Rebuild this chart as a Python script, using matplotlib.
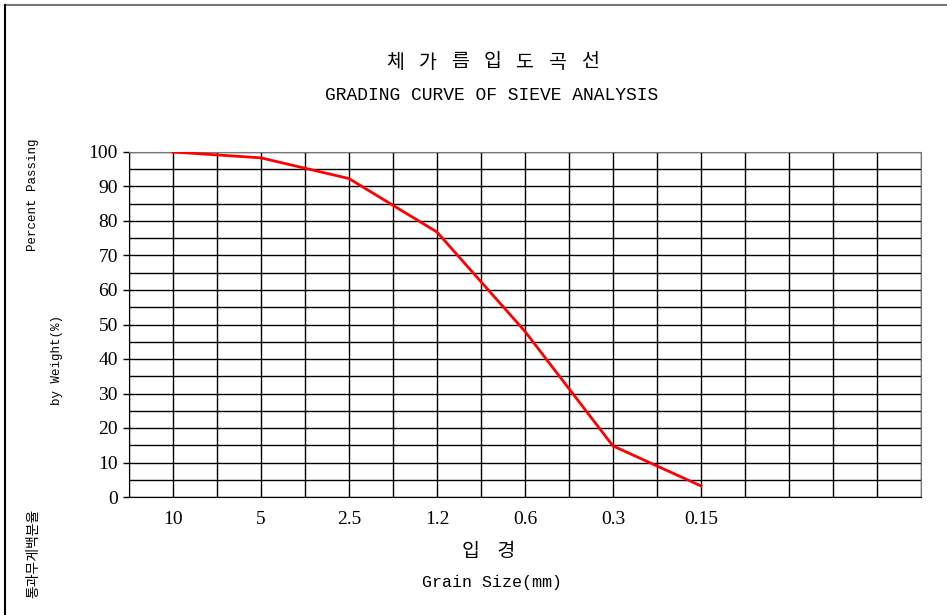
import matplotlib.pyplot as plt
from matplotlib.lines import Line2D

# sieve sizes and percent passing
sieves = ['10', '5', '2.5', '1.2', '0.6', '0.3', '0.15']
passing = [100, 98.3, 92.3, 76.8, 48.0, 14.8, 3.2]
ncols = 18  # number of grid columns on the chart
title_kr = ['체', '가', '름', '입', '도', '곡', '선']

kr = ['Noto Sans CJK KR', 'DejaVu Sans']

fig = plt.figure(figsize=(9.47, 6.15), dpi=100)
ax = fig.add_axes([129/947, 1-497/615, (921-129)/947, (497-152)/615])

xpos = [1 + 2*i for i in range(len(sieves))]
ax.plot(xpos, passing, color='#ff0000', lw=2, zorder=3)

ax.set_xlim(0, ncols)
ax.set_ylim(0, 100)
ax.set_xticks(range(ncols + 1))
ax.set_xticklabels([''] * (ncols + 1))
ax.set_yticks(range(0, 101, 10))
ax.set_yticks(range(5, 100, 10), minor=True)
ax.set_yticklabels([str(v) for v in range(0, 101, 10)],
                   family='Liberation Serif', fontsize=14)
ax.grid(True, which='both', color='black', lw=1)
ax.tick_params(axis='x', length=0)
ax.tick_params(axis='y', which='major', length=4, width=1, pad=4)
ax.tick_params(axis='y', which='minor', length=0)
for s in ax.spines.values():
    s.set_color('black')
ax.spines['right'].set_color('#777777')
ax.spines['top'].set_color('#777777')

# x labels (sieve sizes) under their columns
for x, s in zip(xpos, sieves):
    ax.text(x, -4, s, ha='center', va='top', family='Liberation Serif', fontsize=14,
            clip_on=False)

# titles
for i, ch in enumerate(title_kr):
    fig.text((395 + 32.5*i)/947, 1-62/615, ch, ha='center', va='center',
             family=kr, fontsize=14)
fig.text(492/947, 1-96/615, 'GRADING CURVE OF SIEVE ANALYSIS', ha='center', va='center',
         family='Liberation Mono', fontsize=13)
fig.text(489/947, 1-551/615, '입    경', ha='center', va='center', family=kr, fontsize=14)
fig.text(492/947, 1-583/615, 'Grain Size(mm)', ha='center', va='center',
         family='Liberation Mono', fontsize=12)

# y axis labels
fig.text(33/947, 1-195/615, 'Percent Passing', rotation=90, ha='center', va='center',
         family='Liberation Mono', fontsize=9)
fig.text(57/947, 1-360/615, 'by Weight(%)', rotation=90, ha='center', va='center',
         family='Liberation Mono', fontsize=9)
fig.text(33/947, 1-553/615, '통과무게백분율', rotation=90, ha='center', va='center',
         family=kr, fontsize=10)

# frame lines top and left
fig.add_artist(Line2D([5/947, 1], [1-5/615, 1-5/615], color='#777777', lw=1.5,
                      transform=fig.transFigure))
fig.add_artist(Line2D([5/947, 5/947], [0, 1-5/615], color='black', lw=1.5,
                      transform=fig.transFigure))

fig.savefig('out.png', dpi=100)
